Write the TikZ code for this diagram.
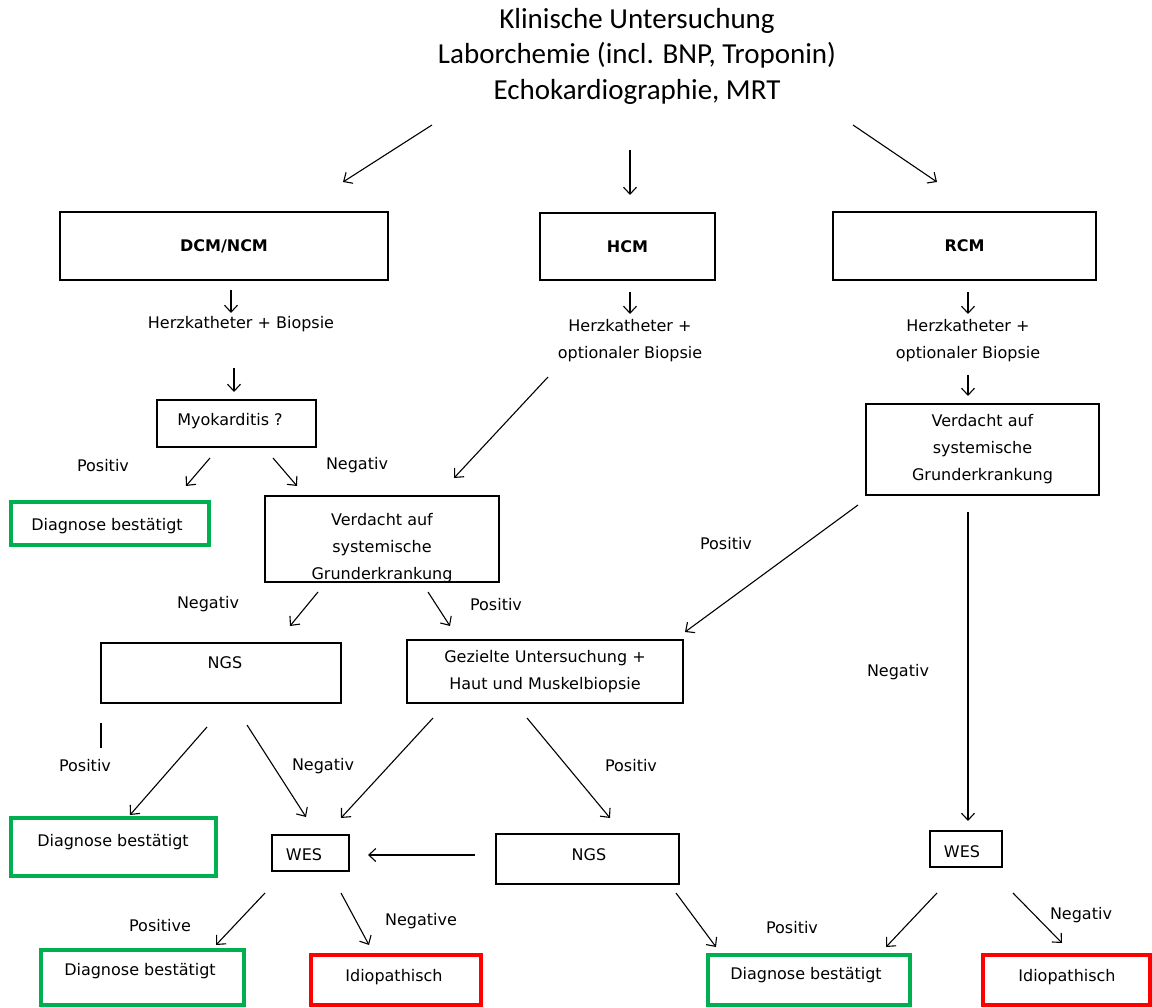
\documentclass[tikz,border=0pt]{standalone}
\usepackage{fontspec}
\setmainfont{DejaVu Sans}
\newfontfamily\titlefont{Carlito}
\usetikzlibrary{arrows.meta}
\definecolor{ggreen}{HTML}{00B050}
\definecolor{rred}{HTML}{FF0000}
\begin{document}
\begin{tikzpicture}[x=1pt,y=-1pt,
  every node/.style={inner sep=0pt, outer sep=0pt},
  txt/.style={font=\fontsize{16}{27}\selectfont, align=center},
  arr/.style={draw, line width=1.1pt, -{Straight Barb[length=7pt,width=13pt,line width=1.1pt]}},
  thickbox/.style={draw, line width=2.6pt, font=\fontsize{16}{18}\selectfont\bfseries},
  plainbox/.style={draw, line width=1.3pt, font=\fontsize{16}{27}\selectfont, align=center},
  greenbox/.style={draw=ggreen, line width=3.6pt},
  redbox/.style={draw=rred, line width=3.6pt}]
\useasboundingbox (0,0) rectangle (1152,1008);
\fill[white] (0,0) rectangle (1152,1008);

% title
\node[font=\titlefont\fontsize{29}{35.5}\selectfont, align=center] (title) at (637,56)
  {Klinische Untersuchung\\Laborchemie (incl. BNP, Troponin)\\Echokardiographie, MRT};

% top boxes
\node[thickbox, minimum width=328pt, minimum height=68pt] (dcm) at (224,246) {DCM/NCM};
\node[thickbox, minimum width=175pt, minimum height=67pt] (hcm) at (627.5,246.5) {HCM};
\node[thickbox, minimum width=263pt, minimum height=68pt] (rcm) at (964.5,246) {RCM};

\coordinate (t1) at (432,125); \coordinate (t1e) at (343,182);
\coordinate (t2) at (630,150); \coordinate (t2e) at (630,195);
\coordinate (t3) at (853,125); \coordinate (t3e) at (937,182);
\draw[arr] (t1) -- (t1e);
\draw[arr] (t2) -- (t2e);
\draw[arr] (t3) -- (t3e);

% Herzkatheter texts
\node[txt] (hk1) at (241,324) {Herzkatheter + Biopsie};
\node[txt] (hk2) at (630,341) {Herzkatheter +\\optionaler Biopsie};
\node[txt] (hk3) at (968,341) {Herzkatheter +\\optionaler Biopsie};
\coordinate (a1) at (231,290); \coordinate (a1e) at (231,313);
\coordinate (a2) at (630,292); \coordinate (a2e) at (630,314);
\coordinate (a3) at (968,292); \coordinate (a3e) at (968,314);
\draw[arr] (a1) -- (a1e);
\draw[arr] (a2) -- (a2e);
\draw[arr] (a3) -- (a3e);

% second level
\node[plainbox, minimum width=159pt, minimum height=47pt] (myo) at (236.5,423.5) {};
\node[txt] (myot) at (230,421) {Myokarditis ?};
\node[plainbox, minimum width=233pt, minimum height=91pt] (rcmv) at (982.5,449.5) {Verdacht auf\\systemische\\Grunderkrankung};
\coordinate (b1) at (234,368); \coordinate (b1e) at (234,392);
\coordinate (b2) at (968,375); \coordinate (b2e) at (968,396);
\draw[arr] (b1) -- (b1e);
\draw[arr] (b2) -- (b2e);

% Myokarditis branches
\node[greenbox, minimum width=198pt, minimum height=43pt] (dg1) at (110,523.5) {};
\node[txt] (dg1t) at (107,526) {Diagnose bestätigt};
\begin{scope}
\clip (265,496) rectangle (499,582);
\node[txt] (dcmvt) at (382,548) {Verdacht auf\\systemische\\Grunderkrankung};
\end{scope}
\node[plainbox, minimum width=234pt, minimum height=86pt] (dcmv) at (382,539) {};
\node[txt] (lp1) at (103,466) {Positiv};
\node[txt] (ln1) at (357,465) {Negativ};
\coordinate (c1) at (210,458); \coordinate (c1e) at (186,486);
\coordinate (c2) at (273,458); \coordinate (c2e) at (297,486);
\coordinate (c3) at (548,377); \coordinate (c3e) at (454,478);
\draw[arr] (c1) -- (c1e);
\draw[arr] (c2) -- (c2e);
\draw[arr] (c3) -- (c3e);

% third level
\node[plainbox, minimum width=240pt, minimum height=60pt] (ngs1) at (221,673) {};
\node[txt] (ngs1t) at (225,663) {NGS};
\node[plainbox, minimum width=276pt, minimum height=63pt] (gez) at (545,671.5) {Gezielte Untersuchung +\\Haut und Muskelbiopsie};
\node[txt] (ln2) at (208,604) {Negativ};
\node[txt] (lp2) at (496,605) {Positiv};
\node[txt] (lp3) at (726,544) {Positiv};
\node[txt] (ln3) at (898,672) {Negativ};
\coordinate (d1) at (318,592); \coordinate (d1e) at (290,626);
\coordinate (d2) at (428,592); \coordinate (d2e) at (450,626);
\coordinate (d3) at (858,505); \coordinate (d3e) at (685,632);
\coordinate (d4) at (968,512); \coordinate (d4e) at (968,821);
\draw[arr] (d1) -- (d1e);
\draw[arr] (d2) -- (d2e);
\draw[arr] (d3) -- (d3e);
\draw[arr] (d4) -- (d4e);

% small bar
\draw[line width=2.6pt] (101,723) -- (101,748);

% fourth level
\node[greenbox, minimum width=205pt, minimum height=58pt] (dg2) at (113.5,847) {};
\node[txt] (dg2t) at (113,842) {Diagnose bestätigt};
\node[plainbox, minimum width=77pt, minimum height=36pt] (wes1) at (310.5,853) {};
\node[txt] (wes1t) at (304,855) {WES};
\node[plainbox, minimum width=183pt, minimum height=50pt] (ngs2) at (587.5,859) {};
\node[txt] (ngs2t) at (589,855) {NGS};
\node[plainbox, minimum width=72pt, minimum height=36pt] (wes2) at (966,849) {};
\node[txt] (wes2t) at (962,852) {WES};
\node[txt] (lp4) at (85,766) {Positiv};
\node[txt] (ln4) at (323,766) {Negativ};
\node[txt] (lp5) at (631,766) {Positiv};
\coordinate (e1) at (207,727); \coordinate (e1e) at (130,815);
\coordinate (e2) at (247,725); \coordinate (e2e) at (306,817);
\coordinate (e3) at (433,718); \coordinate (e3e) at (341,818);
\coordinate (e4) at (527,718); \coordinate (e4e) at (610,818);
\coordinate (e5) at (475,855); \coordinate (e5e) at (368,855);
\draw[arr] (e1) -- (e1e);
\draw[arr] (e2) -- (e2e);
\draw[arr] (e3) -- (e3e);
\draw[arr] (e4) -- (e4e);
\draw[arr] (e5) -- (e5e);

% bottom level
\node[greenbox, minimum width=203pt, minimum height=55pt] (dg3) at (142.5,977.5) {};
\node[txt] (dg3t) at (140,971) {Diagnose bestätigt};
\node[redbox, minimum width=170pt, minimum height=50pt] (id1) at (396,980) {};
\node[txt] (id1t) at (394,977) {Idiopathisch};
\node[greenbox, minimum width=202pt, minimum height=50pt] (dg4) at (809,980) {};
\node[txt] (dg4t) at (806,975) {Diagnose bestätigt};
\node[redbox, minimum width=167pt, minimum height=50pt] (id2) at (1066.5,980) {};
\node[txt] (id2t) at (1067,977) {Idiopathisch};
\node[txt] (lp6) at (160,926) {Positive};
\node[txt] (ln6) at (421,921) {Negative};
\node[txt] (lp7) at (792,928) {Positiv};
\node[txt] (ln7) at (1081,915) {Negativ};
\coordinate (f1) at (265,893); \coordinate (f1e) at (216,945);
\coordinate (f2) at (341,893); \coordinate (f2e) at (369,945);
\coordinate (f3) at (676,893); \coordinate (f3e) at (716,947);
\coordinate (f4) at (937,893); \coordinate (f4e) at (886,947);
\coordinate (f5) at (1013,893); \coordinate (f5e) at (1062,943);
\draw[arr] (f1) -- (f1e);
\draw[arr] (f2) -- (f2e);
\draw[arr] (f3) -- (f3e);
\draw[arr] (f4) -- (f4e);
\draw[arr] (f5) -- (f5e);
\end{tikzpicture}
\end{document}
